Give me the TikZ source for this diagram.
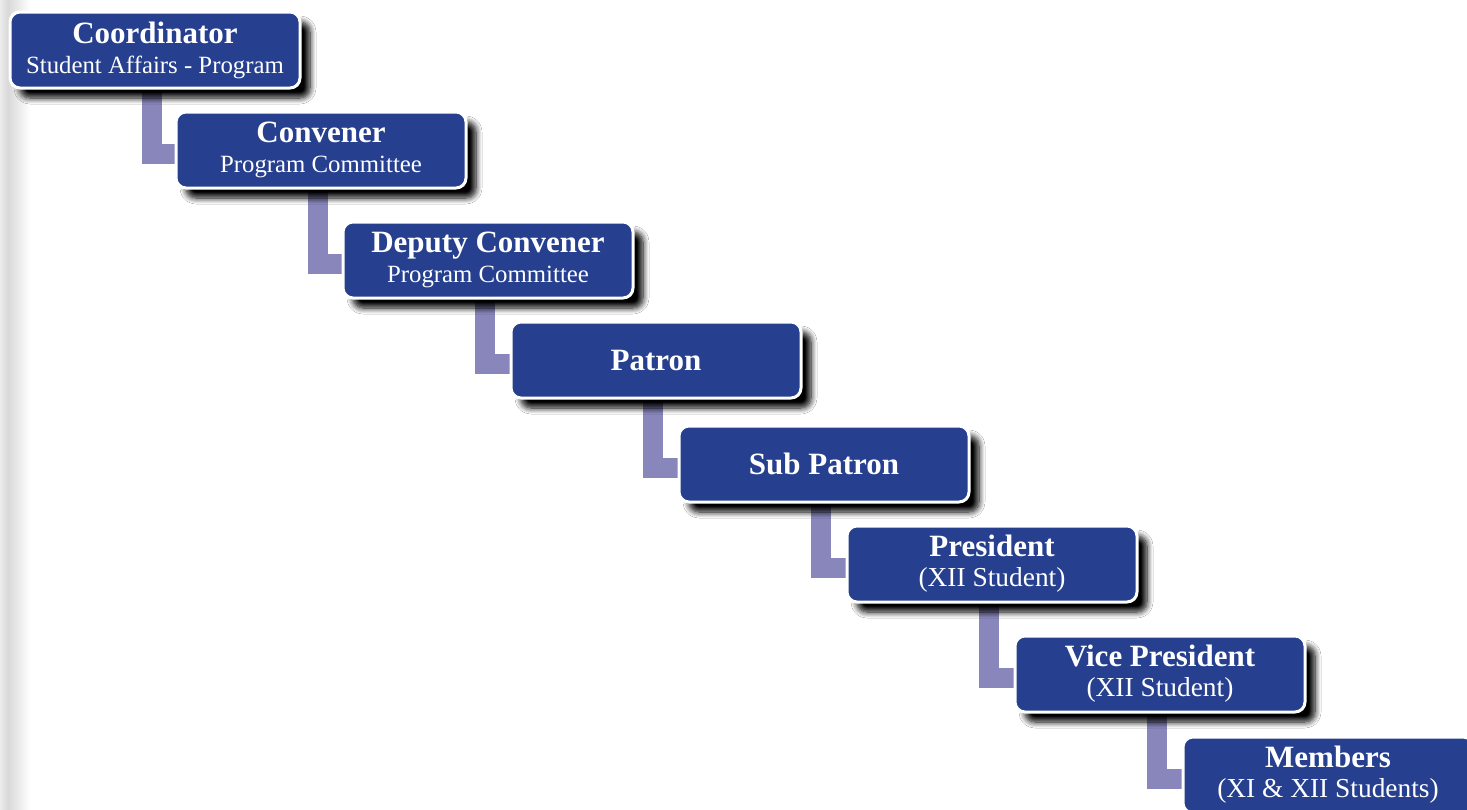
\documentclass[tikz,border=0pt]{standalone}
\usepackage{fontspec}
\setmainfont{Liberation Serif}
\usetikzlibrary{shadows.blur, backgrounds}

\definecolor{boxblue}{RGB}{38,64,143}
\definecolor{linkpurple}{RGB}{136,134,187}

\newcommand{\boxtitle}[1]{{\bfseries\fontsize{15.5}{15}\selectfont #1}}
\newcommand{\boxsub}[1]{{\fontsize{12.4}{15}\selectfont #1}}
\newcommand{\boxclass}[1]{{\fontsize{13.7}{15}\selectfont #1}}

\tikzset{
  orgbox/.style={draw=white, line width=1.5pt, fill=boxblue, rounded corners=5pt,
    minimum width=145pt, minimum height=38pt, inner sep=0pt, align=center,
    text=white, font=\fontsize{12.4}{15}\selectfont,
    blur shadow={shadow xshift=5pt, shadow yshift=-5pt, shadow blur radius=3pt,
      shadow blur steps=8, shadow opacity=100}},
  link/.style={draw=linkpurple, line width=10pt}
}

\begin{document}
\begin{tikzpicture}[x=0.5pt, y=-0.5pt]
    \clip (0,0) rectangle (1467,809);

    \node[orgbox] (coord) at (155,50) {\boxtitle{Coordinator}\\\boxsub{Student Affairs - Program}};
    \node[orgbox] (conv) at (321,150) {\boxtitle{Convener}\\\boxsub{Program Committee}};
    \node[orgbox] (deputy) at (488,260) {\boxtitle{Deputy Convener}\\\boxsub{Program Committee}};
    \node[orgbox] (patron) at (656,360) {\boxtitle{Patron}};
    \node[orgbox] (subpatron) at (824,464) {\boxtitle{Sub Patron}};
    \node[orgbox] (president) at (992,564) {\boxtitle{President}\\\boxclass{(XII Student)}};
    \node[orgbox] (vice) at (1160,674) {\boxtitle{Vice President}\\\boxclass{(XII Student)}};
    \node[orgbox] (members) at (1328,775) {\boxtitle{Members}\\\boxclass{(XI \& XII Students)}};

    \begin{scope}[on background layer]
    \fill[white] (0,0) rectangle (1467,809);
    % gray strip on the left edge
    \shade[left color=gray!15, right color=gray!30] (0,0) rectangle (8,809);
    \shade[left color=gray!30, right color=white] (8,0) rectangle (30,809);
    % connectors
    \draw[link] ([xshift=-1.5pt]coord.south) |- ([yshift=-2pt]conv.west);
    \draw[link] ([xshift=-1.5pt]conv.south) |- ([yshift=-2pt]deputy.west);
    \draw[link] ([xshift=-1.5pt]deputy.south) |- ([yshift=-2pt]patron.west);
    \draw[link] ([xshift=-1.5pt]patron.south) |- ([yshift=-2pt]subpatron.west);
    \draw[link] ([xshift=-1.5pt]subpatron.south) |- ([yshift=-2pt]president.west);
    \draw[link] ([xshift=-1.5pt]president.south) |- ([yshift=-2pt]vice.west);
    \draw[link] ([xshift=-1.5pt]vice.south) |- ([yshift=-2pt]members.west);
    \end{scope}
\end{tikzpicture}
\end{document}
